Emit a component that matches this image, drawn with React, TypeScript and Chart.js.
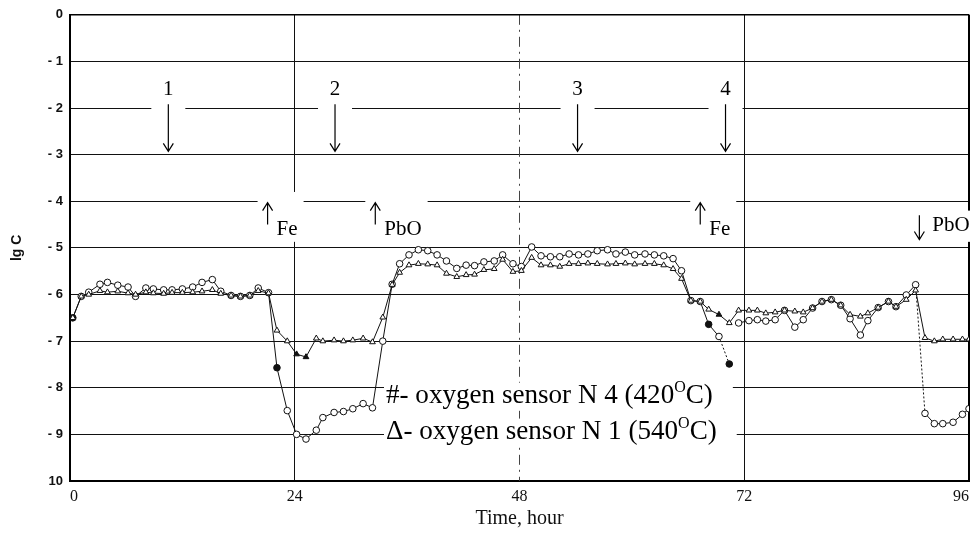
import React, { useEffect, useRef } from 'react';
import { Chart, registerables } from 'chart.js';

Chart.register(...registerables);

// ---- data ----
const hours = [
  0.3, 1.2, 2.0, 3.2, 4.0, 5.1, 6.2, 7.0, 8.1, 8.9, 10.0, 10.9, 12.0, 13.1, 14.1, 15.2, 16.1, 17.2, 18.2, 19.2, 20.1, 21.2,
  22.1, 23.2, 24.2, 25.2, 26.3, 27.0, 28.2, 29.2, 30.2, 31.3, 32.3, 33.4, 34.4, 35.2, 36.2, 37.2, 38.2, 39.2, 40.2,
  41.3, 42.3, 43.2, 44.2, 45.3, 46.2, 47.3, 48.2, 49.3, 50.3, 51.3, 52.3, 53.3, 54.3, 55.3, 56.3, 57.4, 58.3, 59.3,
  60.3, 61.4, 62.4, 63.4, 64.4, 65.3, 66.3, 67.3, 68.2, 69.3, 70.4, 71.4, 72.5, 73.4, 74.3, 75.3, 76.3, 77.4, 78.3,
  79.3, 80.3, 81.3, 82.3, 83.3, 84.4, 85.2, 86.3, 87.4, 88.2, 89.3, 90.3, 91.3, 92.3, 93.2, 94.3, 95.3, 96.0,
];

// oxygen sensor N 4 (420 C) - circles
const sensorN4 = [
  -6.5, -6.04, -5.95, -5.78, -5.74, -5.8, -5.84, -6.04, -5.86, -5.88, -5.9, -5.9, -5.88, -5.84, -5.74, -5.68, -5.93,
  -6.02, -6.04, -6.02, -5.86, -5.96,
  -7.57, -8.49, -9.0, -9.1, -8.91, -8.64, -8.53, -8.51, -8.45, -8.34, -8.43, -7.0, -5.78, -5.34, -5.15, -5.04, -5.06,
  -5.15, -5.28, -5.44, -5.37, -5.38, -5.3, -5.28, -5.15, -5.34, -5.4, -4.98, -5.17, -5.19, -5.19, -5.13, -5.15, -5.13,
  -5.06, -5.04, -5.13, -5.09, -5.15, -5.13, -5.15, -5.17, -5.23, -5.49, -6.13, -6.15, -6.64, -6.9, -7.49, -6.61,
  -6.56, -6.54, -6.57, -6.54, -6.34, -6.7, -6.54, -6.29, -6.15, -6.11, -6.23, -6.52, -6.87, -6.56, -6.28, -6.15,
  -6.26, -6.01, -5.79, -8.55, -8.77, -8.77, -8.74, -8.57, -8.45,
];

// oxygen sensor N 1 (540 C) - triangles
const sensorN1 = [
  -6.5, -6.04, -6.0, -5.92, -5.95, -5.93, -5.97, -6.0, -5.95, -5.97, -5.98, -5.96, -5.96, -5.95, -5.93, -5.9, -5.98,
  -6.02, -6.04, -6.02, -5.92, -5.97,
  -6.77, -7.0, -7.28, -7.34, -6.94, -7.0, -6.98, -7.0, -6.98, -6.94, -7.02, -6.49, -5.79, -5.53, -5.37, -5.34, -5.35,
  -5.37, -5.55, -5.62, -5.58, -5.57, -5.47, -5.45, -5.25, -5.51, -5.49, -5.21, -5.37, -5.37, -5.4, -5.34, -5.34,
  -5.33, -5.34, -5.35, -5.34, -5.33, -5.35, -5.34, -5.34, -5.37, -5.45, -5.66, -6.13, -6.15, -6.32, -6.43, -6.61,
  -6.34, -6.34, -6.34, -6.4, -6.38, -6.34, -6.36, -6.38, -6.29, -6.15, -6.11, -6.23, -6.43, -6.47, -6.4, -6.28,
  -6.15, -6.26, -6.11, -5.91, -6.93, -7.0, -6.96, -6.96, -6.96, -6.96,
];

const n4FilledIdx = [0, 22, 68, 70];
const n1FilledIdx = [24, 25, 69];
const n4BreakAfterIdx = 70;
const n4DottedAfterIdx = [69, 90];

const xTickValues = [0, 24, 48, 72, 96];
const yTickLabels = ['0', '- 1', '- 2', '- 3', '- 4', '- 5', '- 6', '- 7', '- 8', '- 9', '10'];

const stageLabels = ['1', '2', '3', '4'];
const stageHours = [10.5, 28.3, 54.2, 70.0];
const additionLabels = ['Fe', 'PbO', 'Fe', 'PbO'];
const additionHours = [21.1, 32.6, 67.3, 90.7];
const additionDirections = ['up', 'up', 'up', 'down'];
const legendTexts = ['#- oxygen sensor N 4 (420', '\u0394- oxygen sensor N 1 (540'];
const legendSup = 'O';
const legendTail = 'C)';

const SERIF = '"Liberation Serif", "Times New Roman", serif';
const SANS = '"Liberation Sans", Arial, sans-serif';

function drawArrow(ctx: CanvasRenderingContext2D, x: number, yFrom: number, yTip: number) {
  const dir = yTip > yFrom ? 1 : -1;
  ctx.beginPath();
  ctx.moveTo(x, yFrom);
  ctx.lineTo(x, yTip);
  ctx.moveTo(x - 5, yTip - dir * 8);
  ctx.lineTo(x, yTip);
  ctx.lineTo(x + 5, yTip - dir * 8);
  ctx.stroke();
}

const annotationPlugin = {
  id: 'paperAnnotations',
  beforeDatasetsDraw(chart: any) {
    const { ctx, chartArea: a, scales } = chart;
    const xs = scales.x;
    ctx.save();
    const x48 = xs.getPixelForValue(48);
    ctx.strokeStyle = '#444';
    ctx.lineWidth = 1;
    ctx.setLineDash([10, 5, 2, 5]);
    ctx.beginPath();
    ctx.moveTo(x48, a.top);
    ctx.lineTo(x48, a.bottom);
    ctx.stroke();
    ctx.setLineDash([]);
    ctx.strokeStyle = '#000';
    ctx.lineWidth = 2;
    ctx.beginPath();
    ctx.moveTo(a.right, a.top);
    ctx.lineTo(a.right, a.bottom);
    ctx.stroke();
    ctx.lineWidth = 1.5;
    ctx.beginPath();
    ctx.moveTo(a.left, a.top);
    ctx.lineTo(a.right, a.top);
    ctx.stroke();
    ctx.restore();
  },
  afterDatasetsDraw(chart: any) {
    const { ctx, scales } = chart;
    const xs = scales.x;
    const ys = scales.y;
    ctx.save();
    ctx.fillStyle = '#000';
    ctx.strokeStyle = '#000';
    ctx.lineWidth = 1.2;

    // stage numbers with long down arrows
    ctx.font = `21px ${SERIF}`;
    ctx.textAlign = 'center';
    ctx.textBaseline = 'middle';
    stageLabels.forEach((lab, i) => {
      const px = xs.getPixelForValue(stageHours[i]);
      const top = ys.getPixelForValue(-1.3);
      const bot = ys.getPixelForValue(-2.25);
      ctx.fillStyle = '#fff';
      ctx.fillRect(px - 17, top, 34, bot - top);
      ctx.fillStyle = '#000';
      ctx.fillText(lab, px, ys.getPixelForValue(-1.6));
      drawArrow(ctx, px, ys.getPixelForValue(-1.92), ys.getPixelForValue(-2.93));
    });

    // additions (Fe, PbO)
    ctx.textAlign = 'left';
    ctx.textBaseline = 'alphabetic';
    additionLabels.forEach((lab, i) => {
      const px = xs.getPixelForValue(additionHours[i]);
      const up = additionDirections[i] === 'up';
      const tw = ctx.measureText(lab).width;
      const tx = px + (up ? 9 : 13);
      const boxTop = ys.getPixelForValue(up ? -3.8 : -4.2);
      const boxBot = ys.getPixelForValue(-4.87);
      ctx.fillStyle = '#fff';
      ctx.fillRect(px - 10, boxTop, tx + tw + 6 - (px - 10), boxBot - boxTop);
      ctx.fillStyle = '#000';
      ctx.fillText(lab, tx, ys.getPixelForValue(up ? -4.72 : -4.64));
      if (up) drawArrow(ctx, px, ys.getPixelForValue(-4.5), ys.getPixelForValue(-4.03));
      else drawArrow(ctx, px, ys.getPixelForValue(-4.3), ys.getPixelForValue(-4.82));
    });

    // legend texts inside the plot
    const legendY = [-8.17, -8.94];
    const startX = 386;
    const targetW = 327;
    ctx.font = `22px ${SERIF}`;
    const w0 = ctx.measureText(legendTexts[0]).width;
    ctx.font = `13px ${SERIF}`;
    const ws0 = ctx.measureText(legendSup).width;
    ctx.font = `22px ${SERIF}`;
    const wt0 = ctx.measureText(legendTail).width;
    const scale = targetW / (w0 + ws0 + wt0);
    const fMain = 22 * scale;
    const fSup = 13 * scale;
    legendTexts.forEach((txt, i) => {
      const cy = ys.getPixelForValue(legendY[i]);
      ctx.font = `${fMain}px ${SERIF}`;
      const wm = ctx.measureText(txt).width;
      const wtl = ctx.measureText(legendTail).width;
      ctx.font = `${fSup}px ${SERIF}`;
      const ws = ctx.measureText(legendSup).width;
      const total = wm + ws + wtl;
      ctx.fillStyle = '#fff';
      ctx.fillRect(startX - 2, cy - 13, total + 22, 26);
      ctx.fillStyle = '#000';
      ctx.textBaseline = 'middle';
      ctx.font = `${fMain}px ${SERIF}`;
      ctx.fillText(txt, startX, cy);
      ctx.font = `${fSup}px ${SERIF}`;
      ctx.fillText(legendSup, startX + wm, cy - 8);
      ctx.font = `${fMain}px ${SERIF}`;
      ctx.fillText(legendTail, startX + wm + ws, cy);
    });
    ctx.restore();
  },
};

export default function App() {
  const canvasRef = useRef<HTMLCanvasElement | null>(null);

  useEffect(() => {
    document.body.style.margin = '0';
    const canvas = canvasRef.current;
    if (!canvas) return;
    const n4Data = hours.map((h, i) => ({ x: h, y: sensorN4[i] }));
    const n1Data = hours.map((h, i) => ({ x: h, y: sensorN1[i] }));
    const chart = new Chart(canvas, {
      type: 'line',
      data: {
        datasets: [
          {
            label: 'oxygen sensor N 1 (540°C)',
            data: n1Data,
            borderColor: '#111',
            borderWidth: 1,
            pointStyle: 'triangle',
            pointRadius: 3.3,
            pointBorderWidth: 1,
            pointBorderColor: '#111',
            pointBackgroundColor: (c: any) => (n1FilledIdx.includes(c.dataIndex) ? '#111' : '#fff'),
            tension: 0,
          },
          {
            label: 'oxygen sensor N 4 (420°C)',
            data: n4Data,
            borderColor: '#111',
            borderWidth: 1,
            pointStyle: 'circle',
            pointRadius: 3.3,
            pointBorderWidth: 1,
            pointBorderColor: '#111',
            pointBackgroundColor: (c: any) => (n4FilledIdx.includes(c.dataIndex) ? '#111' : '#fff'),
            tension: 0,
            segment: {
              borderColor: (c: any) => (c.p0DataIndex === n4BreakAfterIdx ? 'rgba(0,0,0,0)' : '#111'),
              borderDash: (c: any) => (n4DottedAfterIdx.includes(c.p0DataIndex) ? [2, 2] : undefined),
            },
          } as any,
        ],
      },
      options: {
        animation: false,
        responsive: true,
        maintainAspectRatio: false,
        layout: { padding: { top: 11, right: 3, left: 0, bottom: 0 } },
        plugins: { legend: { display: false }, tooltip: { enabled: false } },
        scales: {
          x: {
            type: 'linear',
            min: 0,
            max: 96,
            afterBuildTicks: (s: any) => {
              s.ticks = xTickValues.map((v) => ({ value: v }));
            },
            ticks: {
              align: 'inner',
              color: '#111',
              padding: 6,
              font: { family: SERIF, size: 16 },
            },
            grid: {
              color: (c: any) => (c.tick && c.tick.value === 48 ? 'rgba(0,0,0,0)' : '#111'),
              lineWidth: 1,
              drawTicks: false,
            },
            border: { display: true, color: '#000', width: 2 },
            title: {
              display: true,
              text: 'Time, hour',
              color: '#111',
              font: { family: SERIF, size: 20 },
              padding: { top: 0, bottom: 12 },
            },
            afterFit: (s: any) => {
              s.height = 62;
            },
          },
          y: {
            type: 'linear',
            min: -10,
            max: 0,
            ticks: {
              stepSize: 1,
              color: '#111',
              padding: 7,
              font: { family: SANS, size: 13, weight: 'bold' },
              callback: (v: any) => yTickLabels[Math.round(-Number(v))],
            },
            grid: {
              color: '#111',
              lineWidth: 1,
              drawTicks: false,
            },
            border: { display: true, color: '#000', width: 2 },
            title: {
              display: true,
              text: 'lg C',
              color: '#111',
              font: { family: SANS, size: 14, weight: 'bold' },
              padding: { top: 9, bottom: 0 },
            },
            afterFit: (s: any) => {
              s.width = 70;
            },
          },
        },
      },
      plugins: [annotationPlugin],
    });
    return () => chart.destroy();
  }, []);

  return (
    <div style={{ position: 'absolute', left: 0, top: 0, width: 975, height: 543, background: '#fff' }}>
      <canvas ref={canvasRef} />
    </div>
  );
}
